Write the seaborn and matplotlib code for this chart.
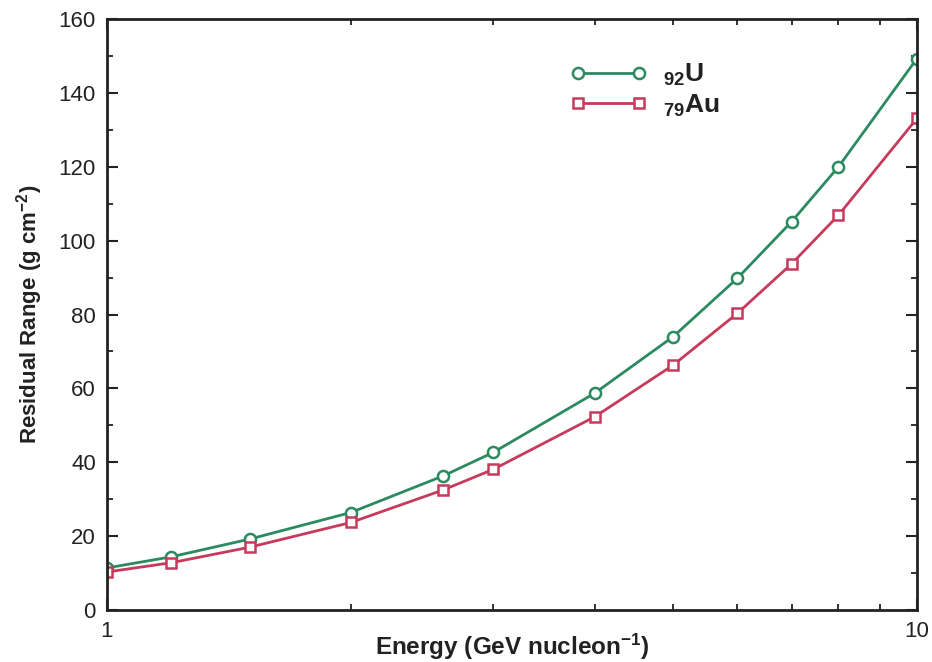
import numpy as np
import pandas as pd
import matplotlib
matplotlib.use("Agg")
import matplotlib.pyplot as plt
import seaborn as sns
from matplotlib.ticker import FixedLocator, NullFormatter, FixedFormatter, MultipleLocator

energy = [1, 1.2, 1.5, 2, 2.6, 3, 4, 5, 6, 7, 8, 10]
range_u = [11.4, 14.4, 19.2, 26.4, 36.3, 42.7, 58.7, 74.0, 89.8, 105.1, 120.0, 149.3]
range_au = [10.3, 12.8, 17.0, 23.7, 32.5, 38.1, 52.3, 66.3, 80.3, 93.7, 106.9, 133.1]
series_labels = [r"$_{\mathbf{92}}$U", r"$_{\mathbf{79}}$Au"]
colors = ["#2b8a60", "#c63a5c"]
markers = ["o", "s"]

sns.set_theme(style="ticks")
plt.rcParams["font.family"] = ["Liberation Sans", "DejaVu Sans"]
plt.rcParams["mathtext.fontset"] = "custom"
plt.rcParams["mathtext.rm"] = "Liberation Sans"
plt.rcParams["mathtext.bf"] = "Liberation Sans:bold"
plt.rcParams["mathtext.it"] = "Liberation Sans:italic"

df = pd.DataFrame({
    "Energy": energy * 2,
    "Range": range_u + range_au,
    "Element": [series_labels[0]] * len(energy) + [series_labels[1]] * len(energy),
})

fig = plt.figure(figsize=(9.32, 6.62), dpi=100)
ax = fig.add_axes([0.1148, 0.0785, 0.8691, 0.8928])

for lab, col, mk in zip(series_labels, colors, markers):
    sub = df[df["Element"] == lab]
    sns.lineplot(data=sub, x="Energy", y="Range", ax=ax, color=col, lw=2.0,
                 marker=mk, markersize=8 if mk == "o" else 7.5, markerfacecolor="white",
                 markeredgecolor=col, markeredgewidth=1.8, label=lab, estimator=None)

ax.set_xscale("log")
ax.set_xlim(1, 10)
ax.set_ylim(0, 160)
ax.xaxis.set_major_locator(FixedLocator([1, 10]))
ax.xaxis.set_major_formatter(FixedFormatter(["1", "10"]))
ax.xaxis.set_minor_locator(FixedLocator([2, 3, 4, 5, 6, 7, 8, 9]))
ax.xaxis.set_minor_formatter(NullFormatter())
ax.yaxis.set_major_locator(MultipleLocator(20))
ax.yaxis.set_minor_locator(MultipleLocator(10))

ax.tick_params(axis="both", which="both", direction="in", top=True, right=True,
               colors="#222222", labelcolor="#222222")
ax.tick_params(axis="both", which="major", length=8, width=1.5, labelsize=16, pad=8)
ax.tick_params(axis="both", which="minor", length=4, width=1.3)
for s in ax.spines.values():
    s.set_linewidth(2.0)
    s.set_color("#222222")

ax.set_xlabel(r"Energy (GeV nucleon$^{\mathbf{-1}}$)", fontsize=17.5, fontweight="bold",
              color="#222222", va="center")
ax.xaxis.set_label_coords(0.5, -0.062)
ax.set_ylabel(r"Residual Range (g cm$^{\mathbf{-2}}$)", fontsize=16, fontweight="bold",
              color="#222222", labelpad=10)

leg = ax.legend(loc="upper left", bbox_to_anchor=(0.543, 0.967), frameon=False,
                numpoints=2, handlelength=2.9, handletextpad=0.6, labelspacing=0.15,
                prop={"size": 19, "weight": "bold"})
for t in leg.get_texts():
    t.set_color("#222222")

fig.savefig("out.png", dpi=100)
